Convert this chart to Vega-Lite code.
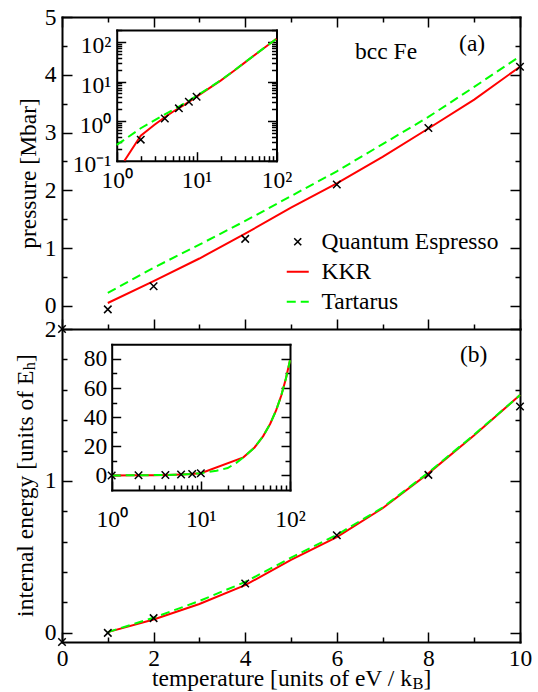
{
  "$schema": "https://vega.github.io/schema/vega-lite/v6.json",
  "width": 458,
  "height": 625,
  "autosize": {"type": "none"},
  "padding": {"left": 62, "top": 17, "right": 18, "bottom": 50},
  "config": {
    "font": "Liberation Serif",
    "view": {"stroke": null},
    "axis": {
      "domainColor": "black", "domainWidth": 2, "domainCap": "square",
      "tickColor": "black", "tickWidth": 1.5,
      "labelColor": "black", "labelFontSize": 23.5, "labelFont": "Liberation Serif",
      "labelFlush": false, "labelOverlap": false, "labelBound": false,
      "titleFont": "Liberation Serif", "titleFontSize": 23.5, "titleFontWeight": "normal", "titleColor": "black",
      "grid": false
    }
  },
  "datasets": {
    "mainA": [
      {"T": 1, "P": 0.05, "series": "KKR"}, {"T": 2, "P": 0.43, "series": "KKR"}, {"T": 3, "P": 0.82, "series": "KKR"}, {"T": 4, "P": 1.25, "series": "KKR"}, {"T": 5, "P": 1.7, "series": "KKR"}, {"T": 6, "P": 2.12, "series": "KKR"}, {"T": 7, "P": 2.58, "series": "KKR"}, {"T": 8, "P": 3.07, "series": "KKR"}, {"T": 9, "P": 3.57, "series": "KKR"}, {"T": 10, "P": 4.14, "series": "KKR"},
      {"T": 1, "P": 0.225, "series": "Tartarus"}, {"T": 2, "P": 0.66, "series": "Tartarus"}, {"T": 3, "P": 1.06, "series": "Tartarus"}, {"T": 4, "P": 1.47, "series": "Tartarus"}, {"T": 5, "P": 1.9, "series": "Tartarus"}, {"T": 6, "P": 2.33, "series": "Tartarus"}, {"T": 7, "P": 2.8, "series": "Tartarus"}, {"T": 8, "P": 3.27, "series": "Tartarus"}, {"T": 9, "P": 3.79, "series": "Tartarus"}, {"T": 10, "P": 4.32, "series": "Tartarus"},
      {"T": 0, "P": -0.4, "series": "Quantum Espresso"}, {"T": 1, "P": -0.06, "series": "Quantum Espresso"}, {"T": 2, "P": 0.34, "series": "Quantum Espresso"}, {"T": 4, "P": 1.16, "series": "Quantum Espresso"}, {"T": 6, "P": 2.1, "series": "Quantum Espresso"}, {"T": 8, "P": 3.08, "series": "Quantum Espresso"}, {"T": 10, "P": 4.14, "series": "Quantum Espresso"}
    ],
    "mainB": [
      {"T": 1, "E": 0.005, "series": "KKR"}, {"T": 2, "E": 0.088, "series": "KKR"}, {"T": 3, "E": 0.19, "series": "KKR"}, {"T": 4, "E": 0.314, "series": "KKR"}, {"T": 5, "E": 0.48, "series": "KKR"}, {"T": 6, "E": 0.63, "series": "KKR"}, {"T": 7, "E": 0.82, "series": "KKR"}, {"T": 8, "E": 1.05, "series": "KKR"}, {"T": 9, "E": 1.3, "series": "KKR"}, {"T": 10, "E": 1.565, "series": "KKR"},
      {"T": 1, "E": 0.005, "series": "Tartarus"}, {"T": 2, "E": 0.1, "series": "Tartarus"}, {"T": 3, "E": 0.21, "series": "Tartarus"}, {"T": 4, "E": 0.335, "series": "Tartarus"}, {"T": 5, "E": 0.495, "series": "Tartarus"}, {"T": 6, "E": 0.645, "series": "Tartarus"}, {"T": 7, "E": 0.825, "series": "Tartarus"}, {"T": 8, "E": 1.055, "series": "Tartarus"}, {"T": 9, "E": 1.305, "series": "Tartarus"}, {"T": 10, "E": 1.565, "series": "Tartarus"},
      {"T": 0, "E": -0.06, "series": "Quantum Espresso"}, {"T": 1, "E": 0.0, "series": "Quantum Espresso"}, {"T": 2, "E": 0.097, "series": "Quantum Espresso"}, {"T": 4, "E": 0.325, "series": "Quantum Espresso"}, {"T": 6, "E": 0.643, "series": "Quantum Espresso"}, {"T": 8, "E": 1.04, "series": "Quantum Espresso"}, {"T": 10, "E": 1.49, "series": "Quantum Espresso"}
    ],
    "insetA": [
      {"T": 1.25, "P": 0.1, "series": "KKR"}, {"T": 2, "P": 0.43, "series": "KKR"}, {"T": 3, "P": 0.82, "series": "KKR"}, {"T": 4, "P": 1.25, "series": "KKR"}, {"T": 5, "P": 1.7, "series": "KKR"}, {"T": 6, "P": 2.12, "series": "KKR"}, {"T": 7, "P": 2.58, "series": "KKR"}, {"T": 8, "P": 3.07, "series": "KKR"}, {"T": 9, "P": 3.57, "series": "KKR"}, {"T": 10, "P": 4.14, "series": "KKR"}, {"T": 20, "P": 10.5, "series": "KKR"}, {"T": 30, "P": 19.2, "series": "KKR"}, {"T": 40, "P": 30, "series": "KKR"}, {"T": 50, "P": 42.3, "series": "KKR"}, {"T": 60, "P": 55.8, "series": "KKR"}, {"T": 70, "P": 70.5, "series": "KKR"}, {"T": 80, "P": 86.2, "series": "KKR"}, {"T": 90, "P": 102.6, "series": "KKR"}, {"T": 100, "P": 120, "series": "KKR"},
      {"T": 1, "P": 0.25, "series": "Tartarus"}, {"T": 2, "P": 0.66, "series": "Tartarus"}, {"T": 3, "P": 1.06, "series": "Tartarus"}, {"T": 4, "P": 1.47, "series": "Tartarus"}, {"T": 5, "P": 1.9, "series": "Tartarus"}, {"T": 6, "P": 2.33, "series": "Tartarus"}, {"T": 7, "P": 2.8, "series": "Tartarus"}, {"T": 8, "P": 3.27, "series": "Tartarus"}, {"T": 9, "P": 3.79, "series": "Tartarus"}, {"T": 10, "P": 4.32, "series": "Tartarus"}, {"T": 20, "P": 10.7, "series": "Tartarus"}, {"T": 30, "P": 19.4, "series": "Tartarus"}, {"T": 40, "P": 30.2, "series": "Tartarus"}, {"T": 50, "P": 42.5, "series": "Tartarus"}, {"T": 60, "P": 56, "series": "Tartarus"}, {"T": 70, "P": 70.7, "series": "Tartarus"}, {"T": 80, "P": 86.4, "series": "Tartarus"}, {"T": 90, "P": 102.8, "series": "Tartarus"}, {"T": 100, "P": 120, "series": "Tartarus"},
      {"T": 2, "P": 0.34, "series": "Quantum Espresso"}, {"T": 4, "P": 1.16, "series": "Quantum Espresso"}, {"T": 6, "P": 2.1, "series": "Quantum Espresso"}, {"T": 8, "P": 3.08, "series": "Quantum Espresso"}, {"T": 10, "P": 4.14, "series": "Quantum Espresso"}
    ],
    "insetB": [
      {"T": 1, "E": 0.005, "series": "KKR"}, {"T": 2, "E": 0.088, "series": "KKR"}, {"T": 3, "E": 0.19, "series": "KKR"}, {"T": 4, "E": 0.314, "series": "KKR"}, {"T": 5, "E": 0.48, "series": "KKR"}, {"T": 6, "E": 0.63, "series": "KKR"}, {"T": 7, "E": 0.82, "series": "KKR"}, {"T": 8, "E": 1.05, "series": "KKR"}, {"T": 9, "E": 1.3, "series": "KKR"}, {"T": 10, "E": 1.565, "series": "KKR"}, {"T": 30, "E": 12.4, "series": "KKR"}, {"T": 40, "E": 19.2, "series": "KKR"}, {"T": 50, "E": 27, "series": "KKR"}, {"T": 60, "E": 35.5, "series": "KKR"}, {"T": 70, "E": 44.8, "series": "KKR"}, {"T": 80, "E": 55, "series": "KKR"}, {"T": 90, "E": 66.5, "series": "KKR"}, {"T": 100, "E": 79, "series": "KKR"},
      {"T": 1, "E": 0.005, "series": "Tartarus"}, {"T": 2, "E": 0.1, "series": "Tartarus"}, {"T": 3, "E": 0.21, "series": "Tartarus"}, {"T": 4, "E": 0.335, "series": "Tartarus"}, {"T": 5, "E": 0.495, "series": "Tartarus"}, {"T": 6, "E": 0.645, "series": "Tartarus"}, {"T": 7, "E": 0.825, "series": "Tartarus"}, {"T": 8, "E": 1.055, "series": "Tartarus"}, {"T": 9, "E": 1.305, "series": "Tartarus"}, {"T": 10, "E": 1.565, "series": "Tartarus"}, {"T": 15, "E": 3.2, "series": "Tartarus"}, {"T": 20, "E": 5.1, "series": "Tartarus"}, {"T": 25, "E": 8.6, "series": "Tartarus"}, {"T": 30, "E": 12.4, "series": "Tartarus"}, {"T": 40, "E": 19.2, "series": "Tartarus"}, {"T": 50, "E": 27, "series": "Tartarus"}, {"T": 60, "E": 35.5, "series": "Tartarus"}, {"T": 70, "E": 44.8, "series": "Tartarus"}, {"T": 80, "E": 55, "series": "Tartarus"}, {"T": 90, "E": 66.5, "series": "Tartarus"}, {"T": 100, "E": 79, "series": "Tartarus"},
      {"T": 1, "E": 0.0, "series": "Quantum Espresso"}, {"T": 2, "E": 0.097, "series": "Quantum Espresso"}, {"T": 4, "E": 0.325, "series": "Quantum Espresso"}, {"T": 6, "E": 0.643, "series": "Quantum Espresso"}, {"T": 8, "E": 1.04, "series": "Quantum Espresso"}, {"T": 10, "E": 1.49, "series": "Quantum Espresso"}
    ]
  },
  "layer": [
    {
      "data": {"name": "mainA"},
      "resolve": {"axis": {"x": "independent", "y": "independent"}},
      "layer": [
        {
          "transform": [{"filter": "datum.series === 'KKR'"}],
          "mark": {"type": "line", "strokeWidth": 2},
          "encoding": {
            "x": {"field": "T", "type": "quantitative", "scale": {"domain": [0, 10], "range": [0, 458], "nice": false, "zero": false}, "axis": null},
            "y": {"field": "P", "type": "quantitative", "scale": {"domain": [-0.4, 5], "range": [312, 0], "nice": false, "zero": false}, "axis": null},
            "color": {"field": "series", "type": "nominal",
              "scale": {"domain": ["Quantum Espresso", "KKR", "Tartarus"], "range": ["black", "#ff0000", "#00ff00"]},
              "legend": {
                "orient": "none", "legendX": 224, "legendY": 213, "title": null, "padding": 0,
                "symbolType": "stroke", "symbolSize": 484, "symbolStrokeWidth": 2,
                "labelFontSize": 23.5, "labelFont": "Liberation Serif", "labelColor": "black", "labelOffset": 12, "labelLimit": 0,
                "rowPadding": 5,
                "encode": {"symbols": {"update": {
                  "shape": {"signal": "datum.value === 'Quantum Espresso' ? 'M-1,-1L1,1M-1,1L1,-1' : 'stroke'"},
                  "size": {"signal": "datum.value === 'Quantum Espresso' ? 49 : 484"},
                  "strokeDash": {"signal": "datum.value === 'Tartarus' ? [9,5] : [1,0]"},
                  "strokeWidth": {"signal": "datum.value === 'Quantum Espresso' ? 1.5 : 2"},
                  "fill": {"value": "transparent"}
                }}}
              }
            }
          }
        },
        {
          "transform": [{"filter": "datum.series === 'Tartarus'"}],
          "mark": {"type": "line", "strokeWidth": 2, "strokeDash": [9, 5]},
          "encoding": {
            "x": {"field": "T", "type": "quantitative", "axis": null},
            "y": {"field": "P", "type": "quantitative", "axis": null},
            "color": {"field": "series", "type": "nominal"}
          }
        },
        {
          "transform": [{"filter": "datum.series === 'Quantum Espresso'"}],
          "mark": {"type": "point", "shape": "M-1,-1L1,1M-1,1L1,-1", "size": 56, "strokeWidth": 1.5, "filled": false, "opacity": 1},
          "encoding": {
            "x": {"field": "T", "type": "quantitative", "axis": null},
            "y": {"field": "P", "type": "quantitative", "axis": null},
            "color": {"field": "series", "type": "nominal"}
          }
        },
        {
          "data": {"values": [{"T": 6.4, "P": 4.28, "label": "bcc Fe"}, {"T": 8.67, "P": 4.41, "label": "(a)"}]},
          "mark": {"type": "text", "align": "left", "baseline": "alphabetic", "fontSize": 23.5, "font": "Liberation Serif", "color": "black"},
          "encoding": {
            "x": {"field": "T", "type": "quantitative", "axis": null},
            "y": {"field": "P", "type": "quantitative", "axis": null},
            "text": {"field": "label"}
          }
        },
        {
          "mark": {"type": "point", "opacity": 0},
          "encoding": {
            "x": {"field": "T", "type": "quantitative", "axis": {"orient": "bottom", "offset": -313, "values": [0,1,2,3,4,5,6,7,8,9,10], "labels": false, "title": null,
              "tickSize": {"condition": {"test": "datum.value % 2 === 1", "value": -5}, "value": -10}}},
            "y": {"field": "P", "type": "quantitative", "axis": {"orient": "left", "values": [0,0.5,1,1.5,2,2.5,3,3.5,4,4.5,5],
              "labelExpr": "datum.value % 1 === 0 ? '' + datum.value : ''", "labelPadding": 16, "labelOverlap": false,
              "tickSize": {"condition": {"test": "datum.value % 1 !== 0", "value": -5}, "value": -10},
              "title": "pressure [Mbar]", "titleX": -27, "titleY": 156, "titleAngle": -90, "titleAlign": "center", "titleBaseline": "alphabetic"}}
          }
        },
        {
          "mark": {"type": "point", "opacity": 0},
          "encoding": {
            "x": {"field": "T", "type": "quantitative", "axis": {"orient": "top", "values": [0,1,2,3,4,5,6,7,8,9,10], "labels": false, "title": null,
              "tickSize": {"condition": {"test": "datum.value % 2 === 1", "value": -5}, "value": -10}}},
            "y": {"field": "P", "type": "quantitative", "axis": {"orient": "right", "values": [0,0.5,1,1.5,2,2.5,3,3.5,4,4.5,5], "labels": false, "title": null,
              "tickSize": {"condition": {"test": "datum.value % 1 !== 0", "value": -5}, "value": -10}}}
          }
        }
      ]
    },
    {
      "data": {"name": "mainB"},
      "resolve": {"axis": {"x": "independent", "y": "independent"}},
      "layer": [
        {
          "transform": [{"filter": "datum.series === 'KKR'"}],
          "mark": {"type": "line", "strokeWidth": 2},
          "encoding": {
            "x": {"field": "T", "type": "quantitative", "scale": {"domain": [0, 10], "range": [0, 458], "nice": false, "zero": false}, "axis": null},
            "y": {"field": "E", "type": "quantitative", "scale": {"domain": [-0.06, 2], "range": [625, 312], "nice": false, "zero": false}, "axis": null},
            "color": {"field": "series", "type": "nominal"}
          }
        },
        {
          "transform": [{"filter": "datum.series === 'Tartarus'"}],
          "mark": {"type": "line", "strokeWidth": 2, "strokeDash": [9, 5]},
          "encoding": {
            "x": {"field": "T", "type": "quantitative", "axis": null},
            "y": {"field": "E", "type": "quantitative", "axis": null},
            "color": {"field": "series", "type": "nominal"}
          }
        },
        {
          "transform": [{"filter": "datum.series === 'Quantum Espresso'"}],
          "mark": {"type": "point", "shape": "M-1,-1L1,1M-1,1L1,-1", "size": 56, "strokeWidth": 1.5, "filled": false, "opacity": 1},
          "encoding": {
            "x": {"field": "T", "type": "quantitative", "axis": null},
            "y": {"field": "E", "type": "quantitative", "axis": null},
            "color": {"field": "series", "type": "nominal"}
          }
        },
        {
          "data": {"values": [{"T": 8.69, "E": 1.78, "label": "(b)"}]},
          "mark": {"type": "text", "align": "left", "baseline": "alphabetic", "fontSize": 23.5, "font": "Liberation Serif", "color": "black"},
          "encoding": {
            "x": {"field": "T", "type": "quantitative", "axis": null},
            "y": {"field": "E", "type": "quantitative", "axis": null},
            "text": {"field": "label"}
          }
        },
        {
          "mark": {"type": "point", "opacity": 0},
          "encoding": {
            "x": {"field": "T", "type": "quantitative", "axis": {"orient": "bottom", "values": [0,1,2,3,4,5,6,7,8,9,10],
              "labelExpr": "datum.value % 2 === 0 ? '' + datum.value : ''", "labelPadding": 14, "labelOverlap": false,
              "tickSize": {"condition": {"test": "datum.value % 2 === 1", "value": -5}, "value": -10},
              "title": "temperature [units of eV / k", "titleX": 89.5, "titleY": 43.5, "titleAlign": "left", "titleBaseline": "alphabetic", "titleAngle": 0}},
            "y": {"field": "E", "type": "quantitative", "axis": {"orient": "left", "values": [0,0.2,0.4,0.6,0.8,1,1.2,1.4,1.6,1.8,2],
              "labelExpr": "datum.value === 0 ? '0' : datum.value === 1 ? '1' : datum.value === 2 ? '2' : ''", "labelPadding": 16, "labelOverlap": false,
              "tickSize": {"condition": {"test": "datum.value % 1 !== 0", "value": -5}, "value": -10},
              "title": "internal energy [units of E", "titleX": -30, "titleY": 599.4, "titleAngle": -90, "titleAlign": "left", "titleBaseline": "alphabetic"}}
          }
        },
        {
          "mark": {"type": "point", "opacity": 0},
          "encoding": {
            "x": {"field": "T", "type": "quantitative", "axis": {"orient": "bottom", "domain": false, "ticks": false, "labels": false,
              "title": "]", "titleX": 360.9, "titleY": 43.5, "titleAlign": "left", "titleBaseline": "alphabetic", "titleAngle": 0}},
            "y": {"field": "E", "type": "quantitative", "axis": {"orient": "right", "values": [0,0.2,0.4,0.6,0.8,1,1.2,1.4,1.6,1.8,2], "labels": false,
              "tickSize": {"condition": {"test": "datum.value % 1 !== 0", "value": -5}, "value": -10},
              "title": "h", "titleFontSize": 16.5, "titleX": -486, "titleY": 352.7, "titleAngle": -90, "titleAlign": "left", "titleBaseline": "alphabetic"}}
          }
        },
        {
          "mark": {"type": "point", "opacity": 0},
          "encoding": {
            "x": {"field": "T", "type": "quantitative", "axis": {"orient": "bottom", "domain": false, "ticks": false, "labels": false,
              "title": "B", "titleFontSize": 16.5, "titleX": 349.9, "titleY": 46.5, "titleAlign": "left", "titleBaseline": "alphabetic", "titleAngle": 0}},
            "y": {"field": "E", "type": "quantitative", "axis": {"orient": "left", "domain": false, "ticks": false, "labels": false,
              "title": "]", "titleX": -30, "titleY": 344.45, "titleAngle": -90, "titleAlign": "left", "titleBaseline": "alphabetic"}}
          }
        }
      ]
    },
    {
      "data": {"name": "insetA"},
      "resolve": {"axis": {"x": "independent", "y": "independent"}},
      "layer": [
        {
          "transform": [{"filter": "datum.series === 'KKR'"}],
          "mark": {"type": "line", "strokeWidth": 2},
          "encoding": {
            "x": {"field": "T", "type": "quantitative", "scale": {"type": "log", "domain": [1, 100], "range": [54.7, 214.5], "nice": false}, "axis": null},
            "y": {"field": "P", "type": "quantitative", "scale": {"type": "log", "domain": [0.1, 200], "range": [143.7, 13], "nice": false}, "axis": null},
            "color": {"field": "series", "type": "nominal"}
          }
        },
        {
          "transform": [{"filter": "datum.series === 'Tartarus'"}],
          "mark": {"type": "line", "strokeWidth": 2, "strokeDash": [9, 5]},
          "encoding": {
            "x": {"field": "T", "type": "quantitative", "axis": null},
            "y": {"field": "P", "type": "quantitative", "axis": null},
            "color": {"field": "series", "type": "nominal"}
          }
        },
        {
          "transform": [{"filter": "datum.series === 'Quantum Espresso'"}],
          "mark": {"type": "point", "shape": "M-1,-1L1,1M-1,1L1,-1", "size": 56, "strokeWidth": 1.5, "filled": false, "opacity": 1},
          "encoding": {
            "x": {"field": "T", "type": "quantitative", "axis": null},
            "y": {"field": "P", "type": "quantitative", "axis": null},
            "color": {"field": "series", "type": "nominal"}
          }
        },
        {
          "mark": {"type": "point", "opacity": 0},
          "encoding": {
            "x": {"field": "T", "type": "quantitative", "axis": {"orient": "bottom", "offset": -481.3, "values": [1,2,3,4,5,6,7,8,9,10,20,30,40,50,60,70,80,90,100],
              "labelExpr": "datum.value === 1 ? '10⁰' : datum.value === 10 ? '10¹' : datum.value === 100 ? '10²' : ''", "labelPadding": 17, "labelOverlap": false,
              "tickSize": {"condition": {"test": "datum.value === 1 || datum.value === 10 || datum.value === 100", "value": -9}, "value": -5}, "title": null}},
            "y": {"field": "P", "type": "quantitative", "axis": {"orient": "left", "offset": -54.7, "values": [0.1,0.2,0.3,0.4,0.5,0.6,0.7,0.8,0.9,1,2,3,4,5,6,7,8,9,10,20,30,40,50,60,70,80,90,100,200],
              "labelExpr": "datum.value === 0.1 ? '10⁻¹' : datum.value === 1 ? '10⁰' : datum.value === 10 ? '10¹' : datum.value === 100 ? '10²' : ''", "labelPadding": 15, "labelOffset": 4, "labelOverlap": false,
              "tickSize": {"condition": {"test": "datum.value === 0.1 || datum.value === 1 || datum.value === 10 || datum.value === 100", "value": -9}, "value": -5}, "title": null}}
          }
        },
        {
          "mark": {"type": "point", "opacity": 0},
          "encoding": {
            "x": {"field": "T", "type": "quantitative", "axis": {"orient": "top", "offset": -13, "ticks": false, "labels": false, "title": null}},
            "y": {"field": "P", "type": "quantitative", "axis": {"orient": "right", "offset": -243.5, "values": [0.1,0.2,0.3,0.4,0.5,0.6,0.7,0.8,0.9,1,2,3,4,5,6,7,8,9,10,20,30,40,50,60,70,80,90,100,200], "labels": false,
              "tickSize": {"condition": {"test": "datum.value === 0.1 || datum.value === 1 || datum.value === 10 || datum.value === 100", "value": -9}, "value": -5}, "title": null}}
          }
        }
      ]
    },
    {
      "data": {"name": "insetB"},
      "resolve": {"axis": {"x": "independent", "y": "independent"}},
      "layer": [
        {
          "transform": [{"filter": "datum.series === 'KKR'"}],
          "mark": {"type": "line", "strokeWidth": 2},
          "encoding": {
            "x": {"field": "T", "type": "quantitative", "scale": {"type": "log", "domain": [1, 100], "range": [49.7, 228], "nice": false}, "axis": null},
            "y": {"field": "E", "type": "quantitative", "scale": {"domain": [-10, 90], "range": [473, 327.3], "nice": false, "zero": false}, "axis": null},
            "color": {"field": "series", "type": "nominal"}
          }
        },
        {
          "transform": [{"filter": "datum.series === 'Tartarus'"}],
          "mark": {"type": "line", "strokeWidth": 2, "strokeDash": [9, 5]},
          "encoding": {
            "x": {"field": "T", "type": "quantitative", "axis": null},
            "y": {"field": "E", "type": "quantitative", "axis": null},
            "color": {"field": "series", "type": "nominal"}
          }
        },
        {
          "transform": [{"filter": "datum.series === 'Quantum Espresso'"}],
          "mark": {"type": "point", "shape": "M-1,-1L1,1M-1,1L1,-1", "size": 56, "strokeWidth": 1.5, "filled": false, "opacity": 1},
          "encoding": {
            "x": {"field": "T", "type": "quantitative", "axis": null},
            "y": {"field": "E", "type": "quantitative", "axis": null},
            "color": {"field": "series", "type": "nominal"}
          }
        },
        {
          "mark": {"type": "point", "opacity": 0},
          "encoding": {
            "x": {"field": "T", "type": "quantitative", "axis": {"orient": "bottom", "offset": -152, "values": [1,2,3,4,5,6,7,8,9,10,20,30,40,50,60,70,80,90,100],
              "labelExpr": "datum.value === 1 ? '10⁰' : datum.value === 10 ? '10¹' : datum.value === 100 ? '10²' : ''", "labelPadding": 26, "labelOverlap": false,
              "tickSize": {"condition": {"test": "datum.value === 1 || datum.value === 10 || datum.value === 100", "value": -9}, "value": -5}, "title": null}},
            "y": {"field": "E", "type": "quantitative", "axis": {"orient": "left", "offset": -49.7, "values": [0,10,20,30,40,50,60,70,80],
              "labelExpr": "datum.value % 20 === 0 ? datum.label : ''", "labelPadding": 14, "labelOverlap": false,
              "tickSize": {"condition": {"test": "datum.value % 20 !== 0", "value": -5}, "value": -9}, "title": null}}
          }
        },
        {
          "mark": {"type": "point", "opacity": 0},
          "encoding": {
            "x": {"field": "T", "type": "quantitative", "axis": {"orient": "top", "offset": -327.3, "ticks": false, "labels": false, "title": null}},
            "y": {"field": "E", "type": "quantitative", "axis": {"orient": "right", "offset": -230, "values": [0,10,20,30,40,50,60,70,80], "labels": false,
              "tickSize": {"condition": {"test": "datum.value % 20 !== 0", "value": -5}, "value": -9}, "title": null}}
          }
        }
      ]
    }
  ],
  "resolve": {"scale": {"x": "independent", "y": "independent"}}
}
